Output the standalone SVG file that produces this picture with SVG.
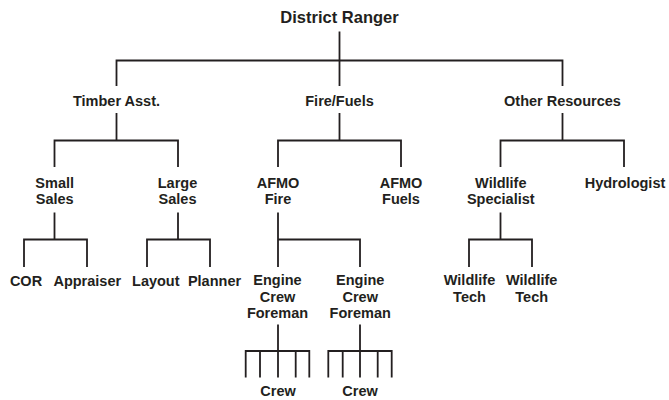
<svg xmlns="http://www.w3.org/2000/svg" width="669" height="400" viewBox="0 0 669 400">
<style>
text{font-family:"Liberation Sans",Arial,sans-serif;font-weight:bold;fill:#231f20;text-anchor:middle;font-size:14.5px}
.top{font-size:16.5px}
#connectors path{fill:none;stroke:#231f20;stroke-width:1.8;stroke-linecap:butt}
</style>
<rect width="669" height="400" fill="#fff"/>
<g id="connectors">
<path d="M339.5 31.5V60.5M116.5 86V60.5H562.5V86M339.5 60.5V86"/>
<path d="M116.5 113V140.5M54.5 167V140.5H178V167"/>
<path d="M339.5 113V140.5M278 167V140.5H401V167"/>
<path d="M562.5 113V140.5M500.5 167V140.5H624V167"/>
<path d="M54.5 212.5V239.5M24 267V239.5H87V267"/>
<path d="M178 212.5V239.5M147 267V239.5H210V267"/>
<path d="M278 212.5V267M278 239.5H360V267"/>
<path d="M500.5 212.5V239.5M469 267V239.5H532V267"/>
<path d="M278 324.5V377.5M245.7 377.5V351H309.3V377.5M260 351V377.5M295.7 351V377.5"/>
<path d="M360 324.5V377.5M328.3 377.5V351H391.7V377.5M342.7 351V377.5M377.7 351V377.5"/>
</g>
<g id="district-ranger"><text class="top" x="339.5" y="23.3">District Ranger</text></g>
<g id="timber-asst"><text x="116.5" y="106">Timber Asst.</text></g>
<g id="fire-fuels"><text x="339.5" y="106">Fire/Fuels</text></g>
<g id="other-resources"><text x="562.5" y="106">Other Resources</text></g>
<g id="small-sales"><text x="54.7" y="187.5">Small</text><text x="54.7" y="204">Sales</text></g>
<g id="large-sales"><text x="177.5" y="187.5">Large</text><text x="177.5" y="204">Sales</text></g>
<g id="afmo-fire"><text x="278" y="187.5">AFMO</text><text x="278" y="204">Fire</text></g>
<g id="afmo-fuels"><text x="401" y="187.5">AFMO</text><text x="401" y="204">Fuels</text></g>
<g id="wildlife-specialist"><text x="500.8" y="187.5">Wildlife</text><text x="500.8" y="204">Specialist</text></g>
<g id="hydrologist"><text x="625" y="187.5">Hydrologist</text></g>
<g id="cor"><text x="26" y="285.5">COR</text></g>
<g id="appraiser"><text x="87.3" y="285.5">Appraiser</text></g>
<g id="layout"><text x="155.8" y="285.5">Layout</text></g>
<g id="planner"><text x="214.5" y="285.5">Planner</text></g>
<g id="engine-crew-foreman-1"><text x="277.5" y="285">Engine</text><text x="277.5" y="301.5">Crew</text><text x="277.5" y="318">Foreman</text></g>
<g id="engine-crew-foreman-2"><text x="360.2" y="285">Engine</text><text x="360.2" y="301.5">Crew</text><text x="360.2" y="318">Foreman</text></g>
<g id="wildlife-tech-1"><text x="469.5" y="285">Wildlife</text><text x="469.5" y="301.5">Tech</text></g>
<g id="wildlife-tech-2"><text x="531.7" y="285">Wildlife</text><text x="531.7" y="301.5">Tech</text></g>
<g id="crew-1"><text x="278" y="396">Crew</text></g>
<g id="crew-2"><text x="360" y="396">Crew</text></g>
</svg>
